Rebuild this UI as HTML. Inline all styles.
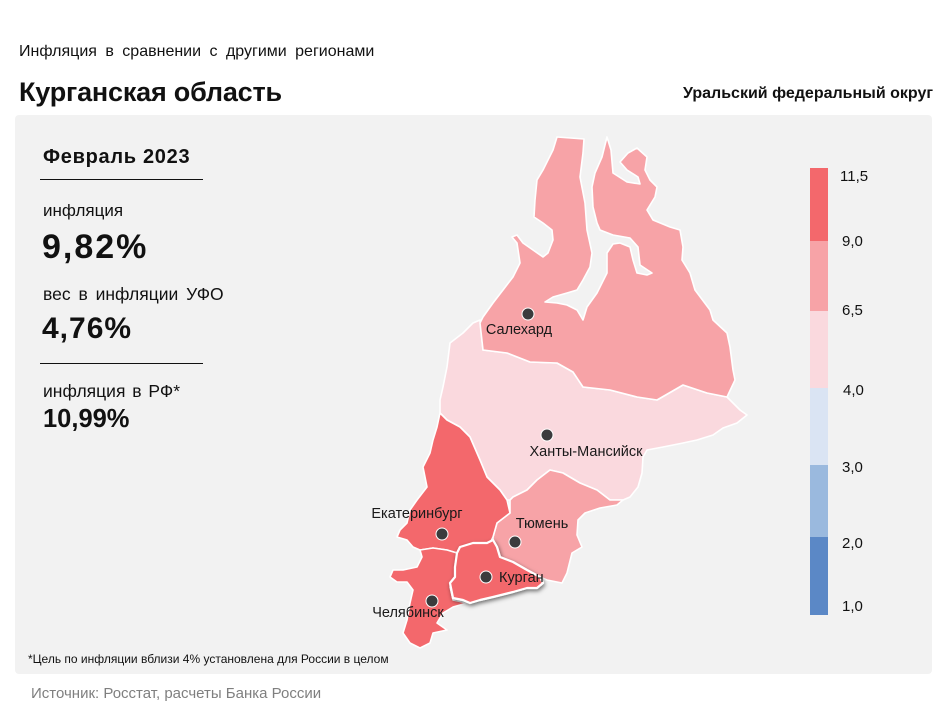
<!DOCTYPE html>
<html><head><meta charset="utf-8">
<style>
html,body{margin:0;padding:0;background:#fff;}
svg{display:block;font-family:"Liberation Sans","Noto Sans CJK SC",Arial,sans-serif;}
</style></head>
<body>
<svg width="950" height="713" viewBox="0 0 950 713" xmlns="http://www.w3.org/2000/svg">
<defs>
<filter id="sh" x="-20%" y="-20%" width="140%" height="140%">
<feDropShadow dx="1" dy="2" stdDeviation="2" flood-color="#000" flood-opacity="0.55"/>
</filter>
</defs>
<rect x="0" y="0" width="950" height="713" fill="#fff"/>
<rect x="15" y="115" width="917" height="559" rx="4" fill="#f2f2f2"/>

<text x="19" y="56" font-size="16" fill="#111" word-spacing="4">Инфляция в сравнении с другими регионами</text>
<text x="19" y="101" font-size="27" font-weight="bold" fill="#111" letter-spacing="-0.2">Курганская область</text>
<text x="933" y="98" font-size="16" font-weight="bold" fill="#111" text-anchor="end">Уральский федеральный округ</text>

<text x="43" y="163" font-size="20" font-weight="bold" fill="#111" letter-spacing="0.7">Февраль 2023</text>
<rect x="40" y="179" width="163" height="1" fill="#111"/>
<text x="43" y="216" font-size="17" fill="#111">инфляция</text>
<text x="42" y="258" font-size="34" font-weight="bold" fill="#111" letter-spacing="2">9,82%</text>
<text x="43" y="300" font-size="17.5" fill="#111" word-spacing="3">вес в инфляции  УФО</text>
<text x="42" y="338" font-size="30" font-weight="bold" fill="#111" letter-spacing="1">4,76%</text>
<rect x="40" y="363" width="163" height="1" fill="#111"/>
<text x="43" y="397" font-size="17.5" fill="#111" word-spacing="2">инфляция в РФ*</text>
<text x="43" y="427" font-size="25.5" font-weight="bold" fill="#111">10,99%</text>

<text x="28" y="663" font-size="12" fill="#111">*Цель по инфляции вблизи 4% установлена для России в целом</text>
<text x="31" y="698" font-size="15" fill="#7f7f7f">Источник: Росстат, расчеты Банка России</text>

<!-- Legend -->
<rect x="810" y="168" width="18" height="73" fill="#f3686c"/>
<rect x="810" y="241" width="18" height="70" fill="#f7a3a7"/>
<rect x="810" y="311" width="18" height="77" fill="#fad9de"/>
<rect x="810" y="388" width="18" height="77" fill="#dae4f3"/>
<rect x="810" y="465" width="18" height="72" fill="#9ab9de"/>
<rect x="810" y="537" width="18" height="78" fill="#5b88c6"/>
<g font-size="15" fill="#111">
<text x="840" y="181">11,5</text>
<text x="842" y="246">9,0</text>
<text x="842" y="315">6,5</text>
<text x="843" y="395">4,0</text>
<text x="842" y="472">3,0</text>
<text x="842" y="548">2,0</text>
<text x="842" y="611">1,0</text>
</g>

<!-- Map -->
<g stroke="#fff" stroke-width="1.6" stroke-linejoin="round">
<polygon fill="#fad9de" points="473,323 480,320 483,350 507,353 530,362 557,363 573,372 583,387 610,390 637,397 657,400 683,385 707,393 727,397 730,400 740,410 747,415 737,423 723,428 713,435 697,440 683,443 663,447 647,450 643,457 642,473 638,487 630,497 623,500 610,500 597,490 580,483 563,473 550,470 537,480 527,490 513,497 510,500 507,500 500,490 487,477 480,460 470,437 460,427 447,420 440,413 440,400 443,387 447,367 450,343 463,333"/>
<polygon fill="#f7a3a7" points="557,137 584,139 583,153 580,177 585,203 587,230 592,253 590,267 583,280 577,290 567,293 553,297 545,302 557,303 567,305 577,310 583,320 587,307 597,293 607,273 607,253 613,244 620,243 630,247 633,260 637,273 647,275 652,273 640,265 638,247 630,238 613,235 600,230 597,223 593,207 592,187 595,173 602,157 607,137 611,150 613,173 627,182 640,184 638,177 627,170 620,162 628,153 637,148 647,157 645,170 650,180 657,187 655,197 647,210 653,220 670,227 680,230 683,247 682,260 690,273 695,290 710,310 713,320 727,333 730,347 733,370 735,380 727,397 707,393 683,385 657,400 637,397 610,390 583,387 573,372 557,363 530,362 507,353 483,350 480,323 483,317 493,303 503,290 513,277 520,263 517,243 512,237 517,235 523,243 533,250 543,257 548,253 553,240 552,230 543,223 534,217 535,200 537,180 543,170 553,150"/>
<polygon fill="#f7a3a7" points="510,500 513,497 527,490 537,480 550,470 563,473 580,483 597,490 610,500 623,500 617,505 600,508 585,513 578,520 577,535 582,547 572,553 567,573 562,583 547,580 540,577 527,570 513,562 500,557 497,547 493,540 493,537 497,523 510,513"/>
<polygon fill="#f3686c" points="440,413 447,420 460,427 470,437 480,460 487,477 500,490 507,500 510,513 497,523 493,537 490,543 487,543 473,543 460,547 457,553 447,550 433,548 420,550 413,547 407,540 397,537 400,530 407,523 410,510 417,500 427,487 423,467 430,453 433,440 437,427"/>
<polygon fill="#f3686c" points="420,550 433,548 447,550 457,553 455,567 457,580 450,587 453,600 467,603 453,607 443,613 437,623 447,630 433,633 430,643 420,648 410,643 403,633 407,620 410,603 413,590 407,582 397,582 390,577 393,570 403,570 417,567 422,557"/>
</g>
<polygon fill="#f3686c" stroke="#fff" stroke-width="2.2" stroke-linejoin="round" filter="url(#sh)" points="460,547 473,543 487,543 493,540 497,547 500,557 513,562 527,570 540,577 543,583 537,588 527,588 513,592 493,597 480,600 470,603 463,600 453,598 450,583 455,577 455,567 457,553"/>

<!-- Cities -->
<g fill="#3b3b3d" stroke="#fff" stroke-width="1">
<circle cx="528" cy="314" r="6"/>
<circle cx="547" cy="435" r="6"/>
<circle cx="442" cy="534" r="6"/>
<circle cx="515" cy="542" r="6"/>
<circle cx="486" cy="577" r="6"/>
<circle cx="432" cy="601" r="6"/>
</g>
<g font-size="14.5" fill="#1a1a1a">
<text x="519" y="334" text-anchor="middle">Салехард</text>
<text x="586" y="456" text-anchor="middle">Ханты-Мансийск</text>
<text x="417" y="518" text-anchor="middle">Екатеринбург</text>
<text x="542" y="528" text-anchor="middle">Тюмень</text>
<text x="499" y="582">Курган</text>
<text x="408" y="617" text-anchor="middle">Челябинск</text>
</g>
</svg>
</body></html>
